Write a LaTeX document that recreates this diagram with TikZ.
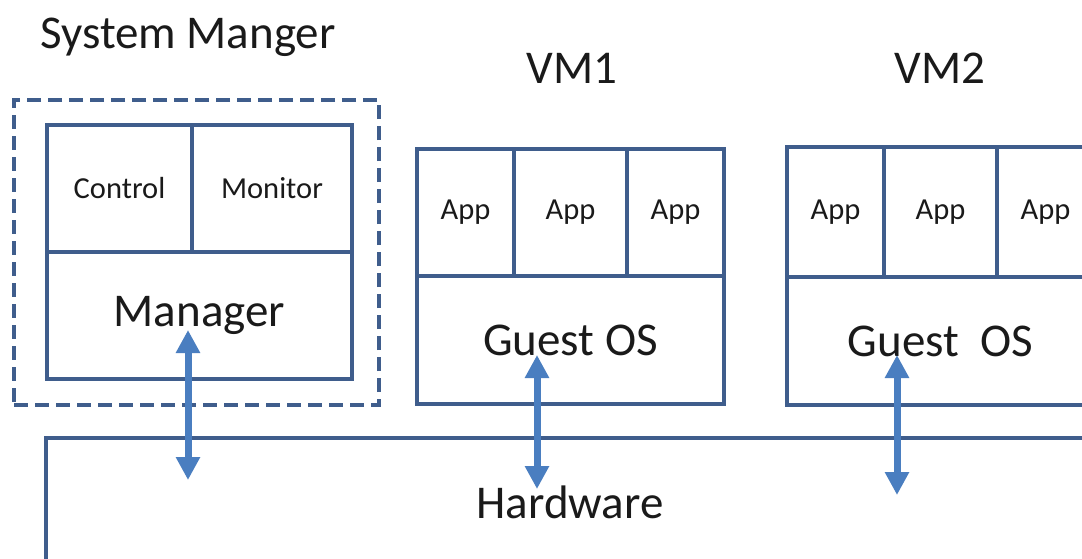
\documentclass[tikz,border=0pt]{standalone}
\usepackage{fontspec}
\setmainfont{Carlito}
\usetikzlibrary{arrows.meta}
\definecolor{boxblue}{HTML}{3F5D8C}
\definecolor{arrblue}{HTML}{4A7EC0}
\definecolor{txt}{HTML}{1A1A1A}
\tikzset{
  cell/.style={draw=boxblue, line width=4pt, anchor=north west, inner sep=0pt, text=txt},
  small/.style={font=\fontsize{30.5}{36}\selectfont},
  big/.style={font=\fontsize{47}{56}\selectfont},
  lbl/.style={text=txt, inner sep=0pt},
  arr/.style={draw=arrblue, line width=7pt, {Triangle[width=23pt,length=23pt]}-{Triangle[width=23pt,length=23pt]}},
  outer/.style={draw=boxblue, line width=4pt, dash pattern=on 14pt off 7pt}
}
\begin{document}
\begin{tikzpicture}[x=1pt,y=-1pt]
\useasboundingbox[fill=white] (0,0) rectangle (1082,558);
\clip (0,0) rectangle (1082,558);
% System manager
\node[outer, anchor=north west, minimum width=365pt, minimum height=305pt, inner sep=0pt] (sm) at (12,98) {};
\node[cell, small, minimum width=145pt, minimum height=127pt] (ctrl) at (45,123) {Control};
\node[cell, small, minimum width=160pt, minimum height=127pt] (mon) at (190,123) {Monitor};
\node[cell, big, minimum width=305pt, minimum height=127pt] (mgr) at (45,250) {Manager};
\node[lbl, big] (smt) at (188,37) {System Manger};
% VM1
\node[cell, small, minimum width=97pt, minimum height=127pt] (a11) at (415,147) {App};
\node[cell, small, minimum width=113pt, minimum height=127pt] (a12) at (512,147) {App};
\node[cell, small, minimum width=97pt, minimum height=127pt] (a13) at (625,147) {App};
\node[cell, big, minimum width=307pt, minimum height=128pt] (os1) at (415,274) {Guest OS};
\node[lbl, big] (vm1) at (572,68) {VM1};
% VM2
\node[cell, small, minimum width=97pt, minimum height=130pt] (a21) at (785,145) {App};
\node[cell, small, minimum width=113pt, minimum height=130pt] (a22) at (882,145) {App};
\node[cell, small, minimum width=97pt, minimum height=130pt] (a23) at (995,145) {App};
\node[cell, big, minimum width=307pt, minimum height=128pt] (os2) at (785,275) {Guest\ \ OS};
\node[lbl, big] (vm2) at (940,68) {VM2};
% Hardware
\node[cell, big, minimum width=1048pt, minimum height=128pt] (hw) at (44,436) {Hardware};
% arrows
\coordinate (m1) at (188,330);
\coordinate (m2) at (188,480);
\coordinate (v1a) at (537,355);
\coordinate (v1b) at (537,489);
\coordinate (v2a) at (897,355);
\coordinate (v2b) at (897,495);
\draw[arr] (m1) -- (m2);
\draw[arr] (v1a) -- (v1b);
\draw[arr] (v2a) -- (v2b);
\end{tikzpicture}
\end{document}
